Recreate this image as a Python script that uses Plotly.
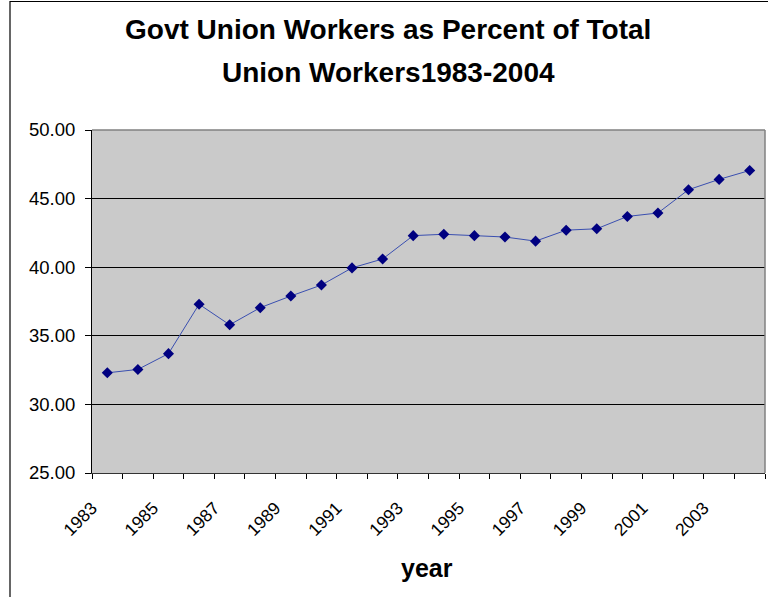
import plotly.graph_objects as go

years = list(range(1983, 2005))
govt_pct = [32.3, 32.55, 33.7, 37.3, 35.8, 37.05, 37.9, 38.7, 39.95, 40.6,
            42.3, 42.4, 42.3, 42.2, 41.9, 42.7, 42.8, 43.7, 43.95, 45.65,
            46.4, 47.05]
x_tick_labels = ["1983", "1985", "1987", "1989", "1991", "1993",
                 "1995", "1997", "1999", "2001", "2003"]
y_ticks = [25, 30, 35, 40, 45, 50]
title_lines = ["Govt Union Workers as Percent of Total", "Union Workers1983-2004"]
x_title = "year"

W, H = 768, 597
L, R, T, B = 92, 765, 130, 473
pw, ph = R - L, B - T

def px(x):
    return (x - L) / pw

def py(y):
    return (B - y) / ph

# category boundaries; labels sit at the left boundary of their year
bounds = [y - 0.5 for y in years] + [years[-1] + 0.5]
ticktext = []
for b in bounds:
    yr = str(int(b + 0.5))
    ticktext.append(yr if yr in x_tick_labels else "")

FONT = "Liberation Sans, Arial, sans-serif"

fig = go.Figure()
fig.add_trace(go.Scatter(
    x=years, y=govt_pct, mode="lines+markers",
    line=dict(color="#3a4fb0", width=1),
    marker=dict(symbol="diamond", size=8.5, color="#000080",
                line=dict(width=0)),
    showlegend=False, cliponaxis=False, hoverinfo="skip",
))

fig.update_layout(
    width=W, height=H,
    margin=dict(l=L, r=W - R, t=T, b=H - B, autoexpand=False),
    paper_bgcolor="white", plot_bgcolor="#cacaca",
    font=dict(family=FONT, color="black"),
    xaxis=dict(
        range=[years[0] - 0.5, years[-1] + 0.5],
        tickmode="array", tickvals=bounds, ticktext=ticktext,
        tickangle=-45, ticks="outside", ticklen=5, tickcolor="black",
        ticklabelstandoff=12,
        tickfont=dict(size=17.5, family=FONT, color="black"),
        showgrid=False, zeroline=False, automargin=False,
        showline=True, linecolor="#333333", linewidth=1,
    ),
    yaxis=dict(
        range=[y_ticks[0], y_ticks[-1]],
        tickmode="array", tickvals=y_ticks,
        ticktext=[f"{v:.2f}" for v in y_ticks],
        ticks="outside", ticklen=6, tickcolor="black",
        ticklabelstandoff=6, automargin=False,
        tickfont=dict(size=18.5, family=FONT, color="black"),
        showgrid=True, gridcolor="black", gridwidth=1,
        zeroline=False,
        showline=True, linecolor="black", linewidth=1,
    ),
    shapes=[
        dict(type="line", xref="paper", yref="paper", x0=0, x1=1, y0=1, y1=1,
             line=dict(color="#808080", width=1.5), layer="above"),
        dict(type="line", xref="paper", yref="paper", x0=1, x1=1, y0=0, y1=1,
             line=dict(color="#808080", width=1.5), layer="above"),
        dict(type="rect", xref="paper", yref="paper",
             x0=px(10), x1=px(775), y0=py(605), y1=py(1.5),
             line=dict(color="black", width=1.2), fillcolor="rgba(0,0,0,0)",
             layer="above"),
    ],
    annotations=[
        dict(text=f"<b>{title_lines[0]}</b>", xref="paper", yref="paper",
             x=px(388), y=py(30), xanchor="center", yanchor="middle",
             showarrow=False, font=dict(size=28, family=FONT, color="black")),
        dict(text=f"<b>{title_lines[1]}</b>", xref="paper", yref="paper",
             x=px(388), y=py(72), xanchor="center", yanchor="middle",
             showarrow=False, font=dict(size=28, family=FONT, color="black")),
        dict(text=f"<b>{x_title}</b>", xref="paper", yref="paper",
             x=px(427), y=py(568), xanchor="center", yanchor="middle",
             showarrow=False, font=dict(size=25, family=FONT, color="black")),
    ],
)

fig.write_html("out.html", config={"displayModeBar": False},
               post_script="document.body.style.margin='0';document.body.style.overflow='hidden';")
